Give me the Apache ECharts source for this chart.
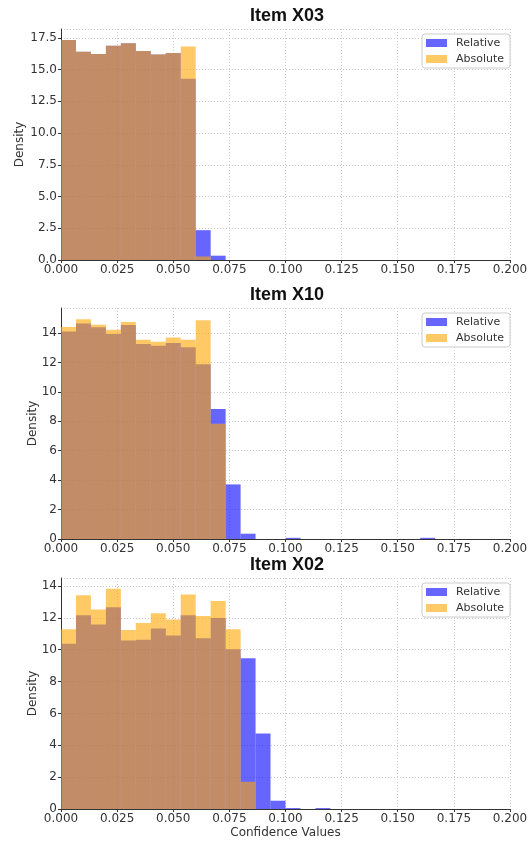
<!DOCTYPE html>
<html>
<head>
<meta charset="utf-8">
<script src="https://cdn.jsdelivr.net/npm/echarts@6/dist/echarts.min.js"></script>
<style>
  html, body { margin: 0; padding: 0; background: #fff; }
  #main { width: 531px; height: 843px; }
</style>
</head>
<body>
<div id="main"></div>
<script>
// histogram bins share one width in every panel
const binWidth = 0.2 / 30;

const titles = ['Item X03', 'Item X10', 'Item X02'];
const seriesNames = ['Relative', 'Absolute'];

// Item X03 densities per bin
const relX03 = [17.34, 16.41, 16.23, 16.89, 17.07, 16.47, 16.2, 16.31, 14.29, 2.35, 0.34];
const absX03 = [17.34, 16.41, 16.23, 16.89, 17.07, 16.47, 16.2, 16.31, 16.83, 0.28];

// Item X10
const relX10 = [14.1, 14.64, 14.39, 13.93, 14.55, 13.25, 13.14, 13.32, 13.03, 11.87, 8.84, 3.71, 0.36,
  0, 0, 0.08, 0, 0, 0, 0, 0, 0, 0, 0, 0.08];
const absX10 = [14.41, 14.93, 14.57, 14.23, 14.75, 13.55, 13.41, 13.7, 13.55, 14.86, 7.84];

// Item X02
const relX02 = [10.37, 12.16, 11.58, 12.66, 10.57, 10.62, 11.33, 10.89, 12.16, 10.72, 11.99, 10.03, 9.47,
  4.74, 0.52, 0.06, 0, 0.06];
const absX02 = [11.29, 13.42, 12.52, 13.83, 11.24, 11.68, 12.29, 11.89, 13.46, 12.12, 13.06, 11.29, 1.71];

const relative = [relX03, relX10, relX02];
const absolute = [absX03, absX10, absX02];

// axis ranges
const xMin = 0, xMax = 0.2, xStep = 0.025;
const yMax = [18.2, 15.7, 14.5];
const yStep = [2.5, 2, 2];
const yDigits = [1, 0, 0];

const colors = ['rgba(0,0,255,0.6)', 'rgba(255,165,0,0.6)'];
const gridTop = [29, 308, 578];
const gridH = 231;
const yNameGap = [35, 22, 22];
const font = 'DejaVu Sans';

const toBins = heights => heights
  .map((h, i) => [i * binWidth, (i + 1) * binWidth, h])
  .filter(d => d[2] > 0);

const binRenderer = color => (params, api) => {
  const p0 = api.coord([api.value(0), 0]);
  const p1 = api.coord([api.value(1), api.value(2)]);
  return {
    type: 'rect',
    shape: { x: p0[0], y: p1[1], width: p1[0] - p0[0], height: p0[1] - p1[1] },
    style: { fill: color }
  };
};

const grids = [], xAxes = [], yAxes = [], series = [], titleList = [], legends = [];

titles.forEach((t, k) => {
  grids.push({ left: 61, right: 21, top: gridTop[k], height: gridH });
  titleList.push({
    text: t, left: 250, top: gridTop[k] - 22, padding: 0,
    textStyle: { fontFamily: 'Liberation Sans', fontWeight: 'bold', fontSize: 18, color: '#111' }
  });
  xAxes.push({
    type: 'value', gridIndex: k, min: xMin, max: xMax, interval: xStep,
    name: k === 2 ? 'Confidence Values' : '',
    nameLocation: 'middle', nameGap: 18, nameMoveOverlap: false,
    nameTextStyle: { fontFamily: font, fontSize: 12, color: '#333' },
    axisLine: { show: true, onZero: false, lineStyle: { color: '#333', width: 1 } },
    axisTick: { show: true, length: 3, lineStyle: { color: '#333' } },
    axisLabel: { fontFamily: font, fontSize: 12, color: '#333', margin: 4,
      formatter: v => v.toFixed(3) },
    splitLine: { show: true, lineStyle: { color: '#ccc', type: [1, 2] } }
  });
  yAxes.push({
    type: 'value', gridIndex: k, min: 0, max: yMax[k], interval: yStep[k],
    name: 'Density', nameLocation: 'middle', nameGap: yNameGap[k], nameMoveOverlap: false,
    nameTextStyle: { fontFamily: font, fontSize: 12, color: '#333' },
    axisLine: { show: true, lineStyle: { color: '#333', width: 1 } },
    axisTick: { show: true, length: 3, lineStyle: { color: '#333' } },
    axisLabel: { fontFamily: font, fontSize: 12, color: '#333', margin: 4, showMaxLabel: false,
      formatter: v => v.toFixed(yDigits[k]) },
    splitLine: { show: true, lineStyle: { color: '#ccc', type: [1, 2] } }
  });
  [relative[k], absolute[k]].forEach((vals, s) => {
    series.push({
      type: 'custom', name: seriesNames[s], xAxisIndex: k, yAxisIndex: k,
      itemStyle: { color: colors[s] },
      renderItem: binRenderer(colors[s]),
      encode: { x: [0, 1], y: 2 },
      data: toBins(vals),
      z: 2 + s
    });
  });
  legends.push({
    data: seriesNames, orient: 'vertical', left: 422, top: gridTop[k] + 5,
    icon: 'rect', itemWidth: 21, itemHeight: 8, itemGap: 4,
    padding: [3, 6, 3, 4],
    borderColor: '#ccc', borderWidth: 1, borderRadius: 3, backgroundColor: 'rgba(255,255,255,0.8)',
    textStyle: { fontFamily: font, fontSize: 11, color: '#333', lineHeight: 12, padding: [0, 0, 0, 4] }
  });
});

const chart = echarts.init(document.getElementById('main'));
chart.setOption({
  animation: false,
  title: titleList,
  legend: legends,
  grid: grids,
  xAxis: xAxes,
  yAxis: yAxes,
  series: series
});
</script>
</body>
</html>
